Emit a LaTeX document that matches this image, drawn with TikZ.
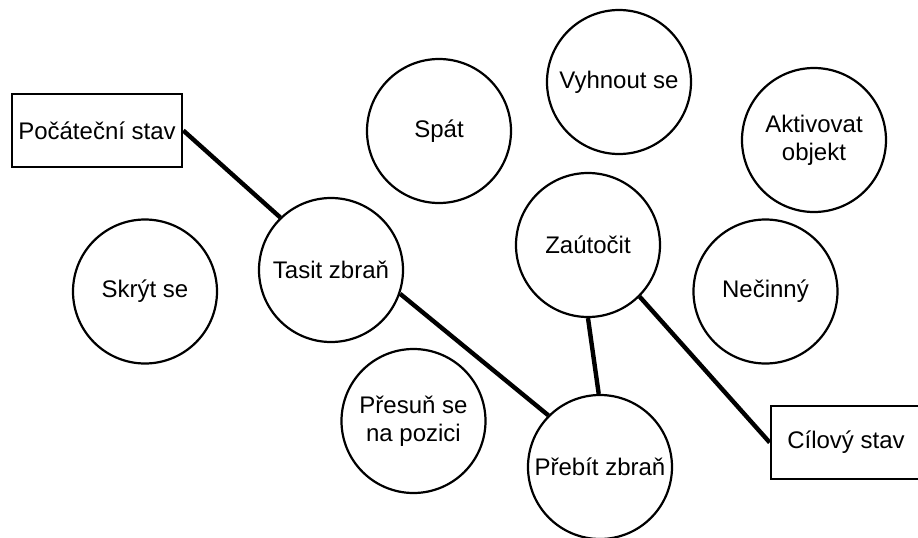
\documentclass[tikz,border=0pt]{standalone}
\usepackage{fontspec}
\setmainfont{Liberation Sans}
\usetikzlibrary{positioning}

\tikzset{
    akce/.style={circle, draw, line width=1.1pt, minimum size=72pt, inner sep=0pt, align=center},
    stav/.style={rectangle, draw, line width=1.3pt, minimum height=36.5pt, inner sep=0pt},
    prechod/.style={line width=2.2pt}
}

\begin{document}
\begin{tikzpicture}[x=0.5pt, y=-0.5pt, font=\fontsize{12}{14}\selectfont]
    \useasboundingbox (0,0) rectangle (918,537);

    % pocatecni a cilovy stav
    \node[stav, minimum width=85pt] (start) at (97,130.5) {Počáteční stav};
    \node[stav, minimum width=75pt] (cil) at (846,442.5) {Cílový stav};

    % akce
    \node[akce] (skryt) at (145,291.5) {Skrýt se};
    \node[akce] (tasit) at (331,270) {Tasit zbraň};
    \node[akce] (spat) at (439,131) {Spát};
    \node[akce] (presun) at (413.5,421) {Přesuň se\\na pozici};
    \node[akce] (vyhnout) at (619,82) {Vyhnout se};
    \node[akce] (zautocit) at (588,245) {Zaútočit};
    \node[akce] (prebit) at (600,467) {Přebít zbraň};
    \node[akce] (aktivovat) at (814,140) {Aktivovat\\objekt};
    \node[akce] (necinny) at (765.5,291.5) {Nečinný};

    % plan
    \draw[prechod] (start.east) -- (tasit.134);
    \draw[prechod] (tasit.-19) -- (prebit.135);
    \draw[prechod] (zautocit.-90) -- (prebit.91);
    \draw[prechod] (zautocit.-45) -- (cil.west);
\end{tikzpicture}
\end{document}
